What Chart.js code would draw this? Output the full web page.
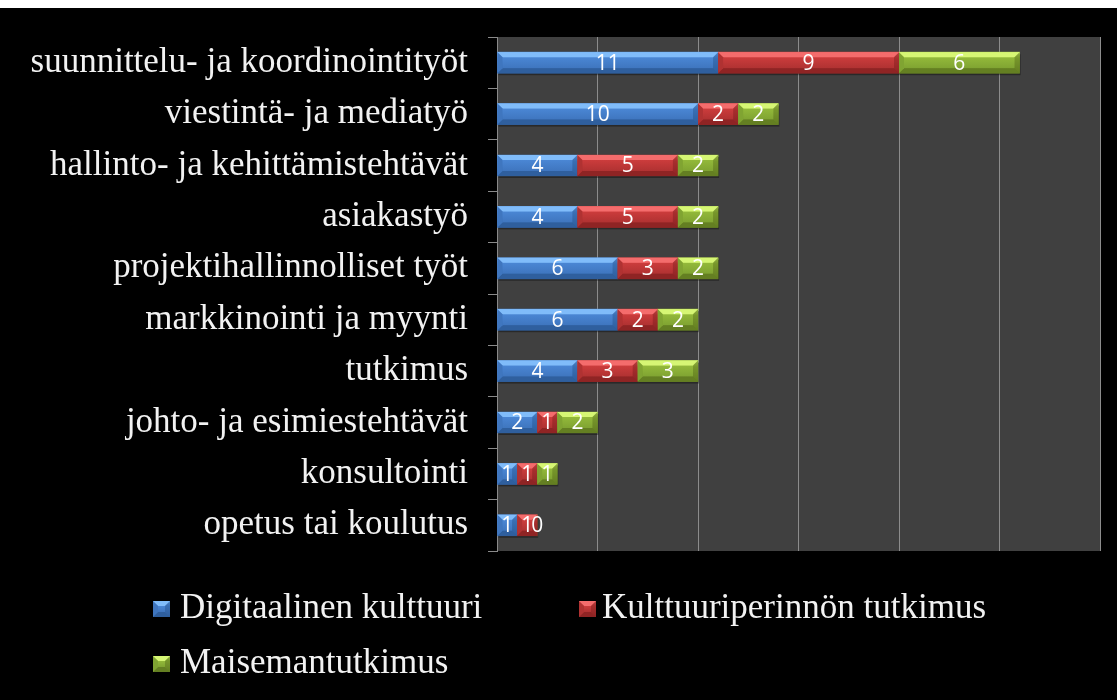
<!DOCTYPE html>
<html>
<head>
<meta charset="utf-8">
<script src="https://cdn.jsdelivr.net/npm/chart.js@4.4.1/dist/chart.umd.min.js"></script>
<style>
  html, body { margin: 0; padding: 0; background: #ffffff; }
  #wrap { width: 1117px; height: 700px; }
</style>
</head>
<body>
<div id="wrap"><canvas id="c" width="1117" height="700"></canvas></div>
<script>
const categories = [
  'suunnittelu- ja koordinointityöt',
  'viestintä- ja mediatyö',
  'hallinto- ja kehittämistehtävät',
  'asiakastyö',
  'projektihallinnolliset työt',
  'markkinointi ja myynti',
  'tutkimus',
  'johto- ja esimiestehtävät',
  'konsultointi',
  'opetus tai koulutus'
];
const seriesNames = ['Digitaalinen kulttuuri', 'Kulttuuriperinnön tutkimus', 'Maisemantutkimus'];
const digitaalinen = [11, 10, 4, 4, 6, 6, 4, 2, 1, 1];
const kulttuuriperinto = [9, 2, 5, 5, 3, 2, 3, 1, 1, 1];
const maisema = [6, 2, 2, 2, 2, 2, 3, 2, 1, 0];
const xTicks = [0, 5, 10, 15, 20, 25, 30];

const palette = [
  { mid: '#4a86d4', light: '#80bcfa', dark: '#2f5f9e', side: '#3f76bf' },
  { mid: '#cc3c3c', light: '#f46c6c', dark: '#8f2424', side: '#b03232' },
  { mid: '#93b93a', light: '#d6f674', dark: '#647f22', side: '#80a432' }
];

const SERIF = '"Liberation Serif", "DejaVu Serif", serif';
const SANS = '"Open Sans", "Liberation Sans", sans-serif';

function bevelRect(ctx, x0, x1, top, h, c) {
  const w = x1 - x0;
  if (w <= 0) return;
  let b = Math.min(5, w / 2, h / 2);
  const bot = top + h;
  const g = ctx.createLinearGradient(0, top, 0, bot);
  g.addColorStop(0, c.light);
  g.addColorStop(0.3, c.mid);
  g.addColorStop(1, c.dark);
  ctx.fillStyle = g;
  ctx.fillRect(x0, top, w, h);
  const g2 = ctx.createLinearGradient(0, top + b, 0, bot - b);
  g2.addColorStop(0, c.mid);
  g2.addColorStop(1, c.side);
  ctx.fillStyle = g2;
  ctx.fillRect(x0 + b, top + b, w - 2 * b, h - 2 * b);
  ctx.fillStyle = c.light;
  ctx.beginPath();
  ctx.moveTo(x0, top); ctx.lineTo(x1, top); ctx.lineTo(x1 - b, top + b); ctx.lineTo(x0 + b, top + b);
  ctx.closePath(); ctx.fill();
  ctx.fillStyle = c.dark;
  ctx.beginPath();
  ctx.moveTo(x0, bot); ctx.lineTo(x1, bot); ctx.lineTo(x1 - b, bot - b); ctx.lineTo(x0 + b, bot - b);
  ctx.closePath(); ctx.fill();
  ctx.fillStyle = c.side;
  ctx.beginPath();
  ctx.moveTo(x0, top); ctx.lineTo(x0 + b, top + b); ctx.lineTo(x0 + b, bot - b); ctx.lineTo(x0, bot);
  ctx.closePath(); ctx.fill();
  ctx.fillStyle = c.dark;
  ctx.globalAlpha = 0.6;
  ctx.beginPath();
  ctx.moveTo(x1, top); ctx.lineTo(x1 - b, top + b); ctx.lineTo(x1 - b, bot - b); ctx.lineTo(x1, bot);
  ctx.closePath(); ctx.fill();
  ctx.globalAlpha = 1;
}

const backgroundPlugin = {
  id: 'bg',
  beforeDraw(chart) {
    const ctx = chart.ctx;
    ctx.save();
    ctx.fillStyle = '#ffffff';
    ctx.fillRect(0, 0, chart.width, 8);
    ctx.fillStyle = '#000000';
    ctx.fillRect(0, 8, chart.width, chart.height - 8);
    const a = chart.chartArea;
    ctx.fillStyle = '#404040';
    ctx.fillRect(a.left, a.top, a.right - a.left, a.bottom - a.top);
    ctx.restore();
  }
};

const bevelPlugin = {
  id: 'bevel',
  afterDatasetsDraw(chart) {
    const ctx = chart.ctx;
    ctx.save();
    chart.data.datasets.forEach((ds, di) => {
      const meta = chart.getDatasetMeta(di);
      meta.data.forEach((el) => {
        const p = el.getProps(['x', 'y', 'base', 'height'], true);
        const x0 = Math.min(p.x, p.base), x1 = Math.max(p.x, p.base);
        const top = p.y - p.height / 2;
        ctx.fillStyle = 'rgba(0,0,0,0.35)';
        if (x1 - x0 > 0) ctx.fillRect(x0 + 1, top + 2, x1 - x0, p.height);
        bevelRect(ctx, x0, x1, top, p.height, palette[di]);
      });
    });
    ctx.fillStyle = '#ffffff';
    ctx.font = '21px ' + SANS;
    ctx.textAlign = 'center';
    ctx.textBaseline = 'middle';
    chart.data.datasets.forEach((ds, di) => {
      const meta = chart.getDatasetMeta(di);
      meta.data.forEach((el, i) => {
        const p = el.getProps(['x', 'y', 'base'], true);
        ctx.fillText(String(ds.data[i]), (p.x + p.base) / 2, p.y + 1);
      });
    });
    ctx.restore();
  }
};

const legendPlugin = {
  id: 'customLegend',
  afterDraw(chart) {
    const ctx = chart.ctx;
    const pos = [
      { bx: 153, cy: 609, tx: 180 },
      { bx: 579, cy: 609, tx: 602 },
      { bx: 153, cy: 664, tx: 180 }
    ];
    ctx.save();
    chart.data.datasets.forEach((ds, di) => {
      const q = pos[di];
      bevelRect(ctx, q.bx, q.bx + 17, q.cy - 8, 16, palette[di]);
      ctx.fillStyle = '#f2f2f2';
      ctx.font = '35px ' + SERIF;
      ctx.textAlign = 'left';
      ctx.textBaseline = 'middle';
      ctx.fillText(ds.label, q.tx, q.cy);
    });
    ctx.restore();
  }
};

const seriesData = [digitaalinen, kulttuuriperinto, maisema];

new Chart(document.getElementById('c'), {
  type: 'bar',
  data: {
    labels: categories,
    datasets: seriesData.map((d, i) => ({
      label: seriesNames[i],
      data: d,
      backgroundColor: palette[i].mid,
      borderWidth: 0,
      barThickness: 21
    }))
  },
  options: {
    indexAxis: 'y',
    responsive: false,
    animation: false,
    layout: { padding: { left: 0, right: 17, top: 37, bottom: 149 } },
    plugins: {
      legend: { display: false },
      tooltip: { enabled: false }
    },
    scales: {
      x: {
        stacked: true,
        min: 0,
        max: 30,
        afterBuildTicks(scale) { scale.ticks = xTicks.map(v => ({ value: v })); },
        ticks: { display: false },
        grid: { color: '#8c8c8c', lineWidth: 1, drawTicks: false },
        border: { display: false }
      },
      y: {
        stacked: true,
        afterFit(scale) { scale.width = 497; scale.paddingTop = 0; scale.paddingBottom = 0; },
        ticks: {
          color: '#f2f2f2',
          font: { family: SERIF, size: 35 },
          padding: 20,
          autoSkip: false
        },
        grid: { drawOnChartArea: false, drawTicks: true, tickLength: 9, color: '#8a8a8a' },
        border: { display: true, color: '#8a8a8a', width: 1 }
      }
    }
  },
  plugins: [backgroundPlugin, bevelPlugin, legendPlugin]
});
</script>
</body>
</html>
